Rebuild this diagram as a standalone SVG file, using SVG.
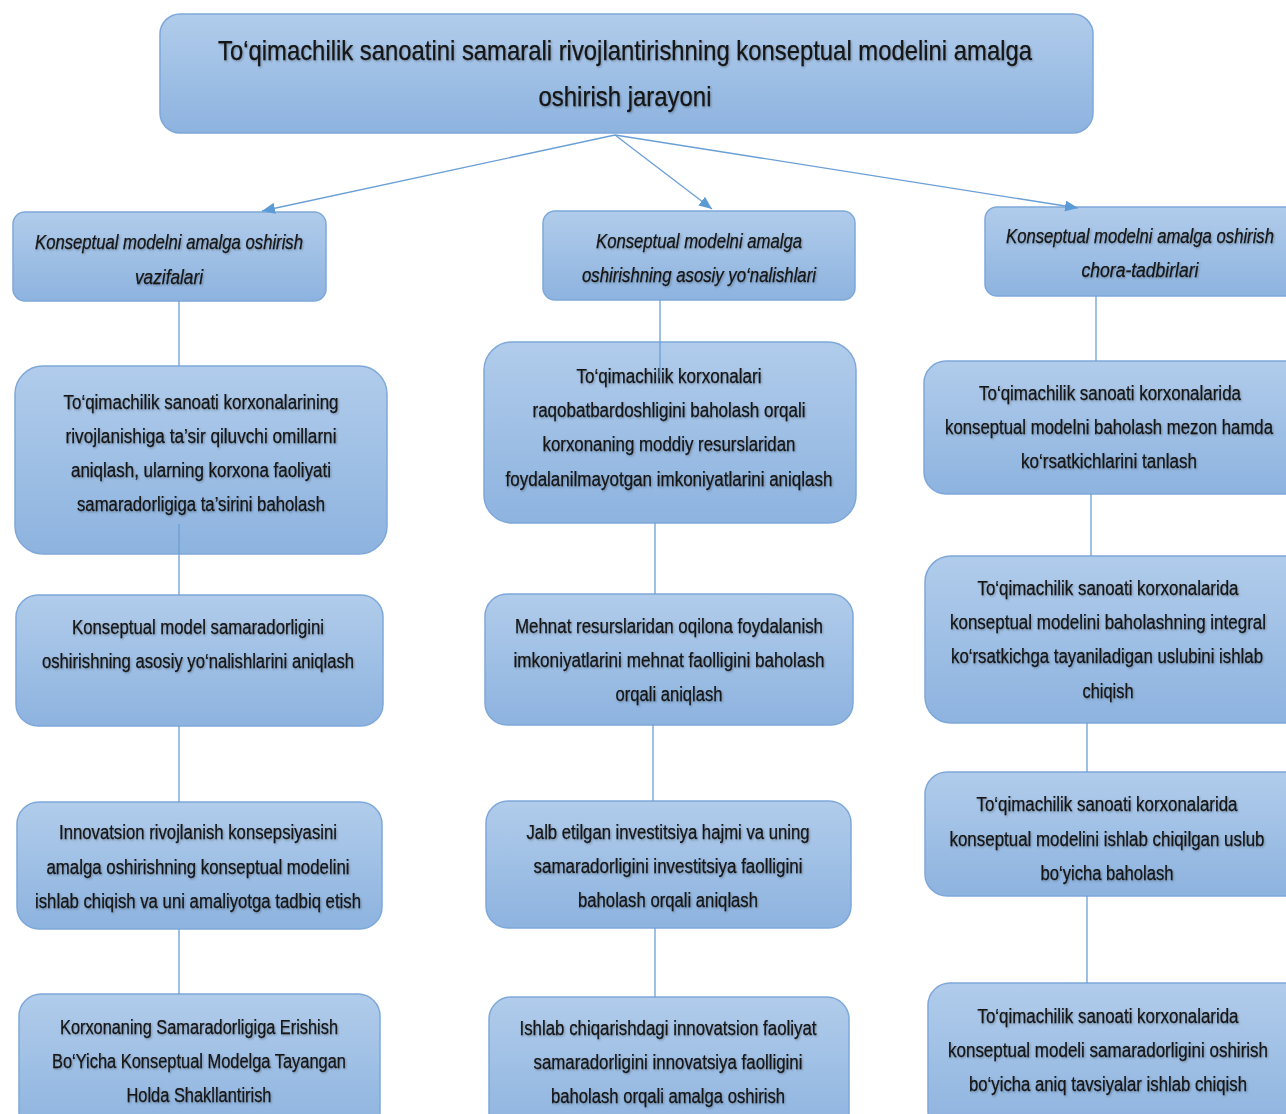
<svg xmlns="http://www.w3.org/2000/svg" width="1286" height="1114" viewBox="0 0 1286 1114">
<defs>
<linearGradient id="g" x1="0" y1="0" x2="0" y2="1">
<stop offset="0" stop-color="#b1cceb"/>
<stop offset="1" stop-color="#8db3df"/>
</linearGradient>
<filter id="sh" x="-5%" y="-30%" width="110%" height="160%">
<feDropShadow dx="1" dy="1.2" stdDeviation="0.8" flood-color="#000" flood-opacity="0.3"/>
</filter>
<marker id="ah" viewBox="0 0 10 10" refX="10" refY="5" markerWidth="13" markerHeight="11" markerUnits="userSpaceOnUse" orient="auto" preserveAspectRatio="none">
<path d="M0,0 L10,5 L0,10 z" fill="#5b9bd5"/>
</marker>
<style>
.box{fill:url(#g);stroke:#7ea8da;stroke-width:1.5}
text{font-family:"Liberation Sans",Arial,sans-serif;fill:#141414;stroke:#141414;stroke-width:0.25;text-anchor:middle;filter:url(#sh)}
.t{font-size:20px}
.h{font-size:20px;font-style:italic}
.ttl{font-size:28px}
.c{stroke:#6a9fd6;stroke-width:1.3;fill:none}
</style>
</defs>
<rect width="1286" height="1114" fill="#ffffff"/>

<g id="n-top">
<rect class="box" x="160" y="14" width="933" height="119" rx="20"/>
<text class="ttl" x="625" y="60" textLength="814" lengthAdjust="spacingAndGlyphs">To‘qimachilik sanoatini samarali rivojlantirishning konseptual modelini amalga</text>
<text class="ttl" x="625" y="106" textLength="173" lengthAdjust="spacingAndGlyphs">oshirish jarayoni</text>
</g>

<g id="n-h1">
<rect class="box" x="13" y="212" width="313" height="89" rx="12"/>
<text class="h" x="169" y="249" textLength="268" lengthAdjust="spacingAndGlyphs">Konseptual modelni amalga oshirish</text>
<text class="h" x="169" y="284" textLength="68" lengthAdjust="spacingAndGlyphs">vazifalari</text>
</g>
<g id="n-h2">
<rect class="box" x="543" y="211" width="312" height="89" rx="12"/>
<text class="h" x="699" y="248" textLength="206" lengthAdjust="spacingAndGlyphs">Konseptual modelni  amalga</text>
<text class="h" x="699" y="282" textLength="234" lengthAdjust="spacingAndGlyphs">oshirishning asosiy yo‘nalishlari</text>
</g>
<g id="n-h3">
<rect class="box" x="985" y="207" width="330" height="89" rx="12"/>
<text class="h" x="1140" y="243" textLength="268" lengthAdjust="spacingAndGlyphs">Konseptual modelni amalga oshirish</text>
<text class="h" x="1140" y="277" textLength="117" lengthAdjust="spacingAndGlyphs">chora-tadbirlari</text>
</g>

<g id="n-l1">
<rect class="box" x="15" y="366" width="372" height="188" rx="28"/>
<text class="t" x="201" y="409" textLength="275" lengthAdjust="spacingAndGlyphs">To‘qimachilik sanoati korxonalarining</text>
<text class="t" x="201" y="443" textLength="271" lengthAdjust="spacingAndGlyphs">rivojlanishiga ta’sir qiluvchi omillarni</text>
<text class="t" x="201" y="477" textLength="260" lengthAdjust="spacingAndGlyphs">aniqlash, ularning korxona faoliyati</text>
<text class="t" x="201" y="511" textLength="248" lengthAdjust="spacingAndGlyphs">samaradorligiga ta’sirini baholash</text>
</g>
<g id="n-l2">
<rect class="box" x="16" y="595" width="367" height="131" rx="22"/>
<text class="t" x="198" y="634" textLength="252" lengthAdjust="spacingAndGlyphs">Konseptual model samaradorligini</text>
<text class="t" x="198" y="668" textLength="312" lengthAdjust="spacingAndGlyphs">oshirishning asosiy yo‘nalishlarini aniqlash</text>
</g>
<g id="n-l3">
<rect class="box" x="17" y="802" width="365" height="127" rx="22"/>
<text class="t" x="198" y="839" textLength="278" lengthAdjust="spacingAndGlyphs">Innovatsion rivojlanish konsepsiyasini</text>
<text class="t" x="198" y="874" textLength="303" lengthAdjust="spacingAndGlyphs">amalga oshirishning konseptual modelini</text>
<text class="t" x="198" y="908" textLength="326" lengthAdjust="spacingAndGlyphs">ishlab chiqish va uni amaliyotga tadbiq etish</text>
</g>
<g id="n-l4">
<rect class="box" x="19" y="994" width="361" height="140" rx="22"/>
<text class="t" x="199" y="1034" textLength="278" lengthAdjust="spacingAndGlyphs">Korxonaning Samaradorligiga Erishish</text>
<text class="t" x="199" y="1068" textLength="294" lengthAdjust="spacingAndGlyphs">Bo‘Yicha Konseptual Modelga Tayangan</text>
<text class="t" x="199" y="1102" textLength="145" lengthAdjust="spacingAndGlyphs">Holda Shakllantirish</text>
</g>

<g id="n-m1">
<rect class="box" x="484" y="342" width="372" height="181" rx="28"/>
<text class="t" x="669" y="383" textLength="185" lengthAdjust="spacingAndGlyphs">To‘qimachilik korxonalari</text>
<text class="t" x="669" y="417" textLength="273" lengthAdjust="spacingAndGlyphs">raqobatbardoshligini baholash orqali</text>
<text class="t" x="669" y="451" textLength="253" lengthAdjust="spacingAndGlyphs">korxonaning moddiy resurslaridan</text>
<text class="t" x="669" y="486" textLength="327" lengthAdjust="spacingAndGlyphs">foydalanilmayotgan imkoniyatlarini aniqlash</text>
</g>
<g id="n-m2">
<rect class="box" x="485" y="594" width="368" height="131" rx="22"/>
<text class="t" x="669" y="633" textLength="308" lengthAdjust="spacingAndGlyphs">Mehnat resurslaridan oqilona foydalanish</text>
<text class="t" x="669" y="667" textLength="311" lengthAdjust="spacingAndGlyphs">imkoniyatlarini mehnat faolligini baholash</text>
<text class="t" x="669" y="701" textLength="107" lengthAdjust="spacingAndGlyphs">orqali aniqlash</text>
</g>
<g id="n-m3">
<rect class="box" x="486" y="801" width="365" height="127" rx="22"/>
<text class="t" x="668" y="839" textLength="283" lengthAdjust="spacingAndGlyphs">Jalb etilgan investitsiya hajmi va uning</text>
<text class="t" x="668" y="873" textLength="269" lengthAdjust="spacingAndGlyphs">samaradorligini investitsiya faolligini</text>
<text class="t" x="668" y="907" textLength="180" lengthAdjust="spacingAndGlyphs">baholash orqali aniqlash</text>
</g>
<g id="n-m4">
<rect class="box" x="489" y="997" width="360" height="140" rx="22"/>
<text class="t" x="668" y="1035" textLength="297" lengthAdjust="spacingAndGlyphs">Ishlab chiqarishdagi innovatsion faoliyat</text>
<text class="t" x="668" y="1069" textLength="269" lengthAdjust="spacingAndGlyphs">samaradorligini innovatsiya faolligini</text>
<text class="t" x="668" y="1103" textLength="234" lengthAdjust="spacingAndGlyphs">baholash orqali amalga oshirish</text>
</g>

<g id="n-r1">
<rect class="box" x="924" y="361" width="390" height="133" rx="22"/>
<text class="t" x="1110" y="400" textLength="262" lengthAdjust="spacingAndGlyphs">To‘qimachilik sanoati korxonalarida</text>
<text class="t" x="1109" y="434" textLength="328" lengthAdjust="spacingAndGlyphs">konseptual modelni baholash mezon hamda</text>
<text class="t" x="1109" y="468" textLength="176" lengthAdjust="spacingAndGlyphs">ko‘rsatkichlarini tanlash</text>
</g>
<g id="n-r2">
<rect class="box" x="925" y="556" width="390" height="167" rx="26"/>
<text class="t" x="1108" y="595" textLength="261" lengthAdjust="spacingAndGlyphs">To‘qimachilik sanoati korxonalarida</text>
<text class="t" x="1108" y="629" textLength="316" lengthAdjust="spacingAndGlyphs">konseptual modelini baholashning integral</text>
<text class="t" x="1107" y="663" textLength="312" lengthAdjust="spacingAndGlyphs">ko‘rsatkichga tayaniladigan uslubini ishlab</text>
<text class="t" x="1108" y="698" textLength="51" lengthAdjust="spacingAndGlyphs">chiqish</text>
</g>
<g id="n-r3">
<rect class="box" x="925" y="772" width="390" height="124" rx="22"/>
<text class="t" x="1107" y="811" textLength="261" lengthAdjust="spacingAndGlyphs">To‘qimachilik sanoati korxonalarida</text>
<text class="t" x="1107" y="846" textLength="315" lengthAdjust="spacingAndGlyphs">konseptual modelini ishlab chiqilgan uslub</text>
<text class="t" x="1107" y="880" textLength="133" lengthAdjust="spacingAndGlyphs">bo‘yicha baholash</text>
</g>
<g id="n-r4">
<rect class="box" x="928" y="983" width="390" height="150" rx="22"/>
<text class="t" x="1108" y="1023" textLength="261" lengthAdjust="spacingAndGlyphs">To‘qimachilik sanoati korxonalarida</text>
<text class="t" x="1108" y="1057" textLength="320" lengthAdjust="spacingAndGlyphs">konseptual modeli samaradorligini oshirish</text>
<text class="t" x="1108" y="1091" textLength="278" lengthAdjust="spacingAndGlyphs">bo‘yicha aniq tavsiyalar ishlab chiqish</text>
</g>

<g id="connectors">
<line class="c" x1="615" y1="135" x2="262" y2="211" marker-end="url(#ah)"/>
<line class="c" x1="615" y1="135" x2="712" y2="209" marker-end="url(#ah)"/>
<line class="c" x1="615" y1="135" x2="1078" y2="208" marker-end="url(#ah)"/>
<line class="c" x1="179" y1="301" x2="179" y2="366"/>
<line class="c" x1="179" y1="524" x2="179" y2="595"/>
<line class="c" x1="179" y1="726" x2="179" y2="802"/>
<line class="c" x1="179" y1="929" x2="179" y2="994"/>
<line class="c" x1="660" y1="300" x2="660" y2="378"/>
<line class="c" x1="655" y1="523" x2="655" y2="594"/>
<line class="c" x1="653" y1="725" x2="653" y2="801"/>
<line class="c" x1="655" y1="928" x2="655" y2="997"/>
<line class="c" x1="1096" y1="296" x2="1096" y2="361"/>
<line class="c" x1="1091" y1="494" x2="1091" y2="556"/>
<line class="c" x1="1087" y1="723" x2="1087" y2="772"/>
<line class="c" x1="1087" y1="896" x2="1087" y2="983"/>
</g>
</svg>
